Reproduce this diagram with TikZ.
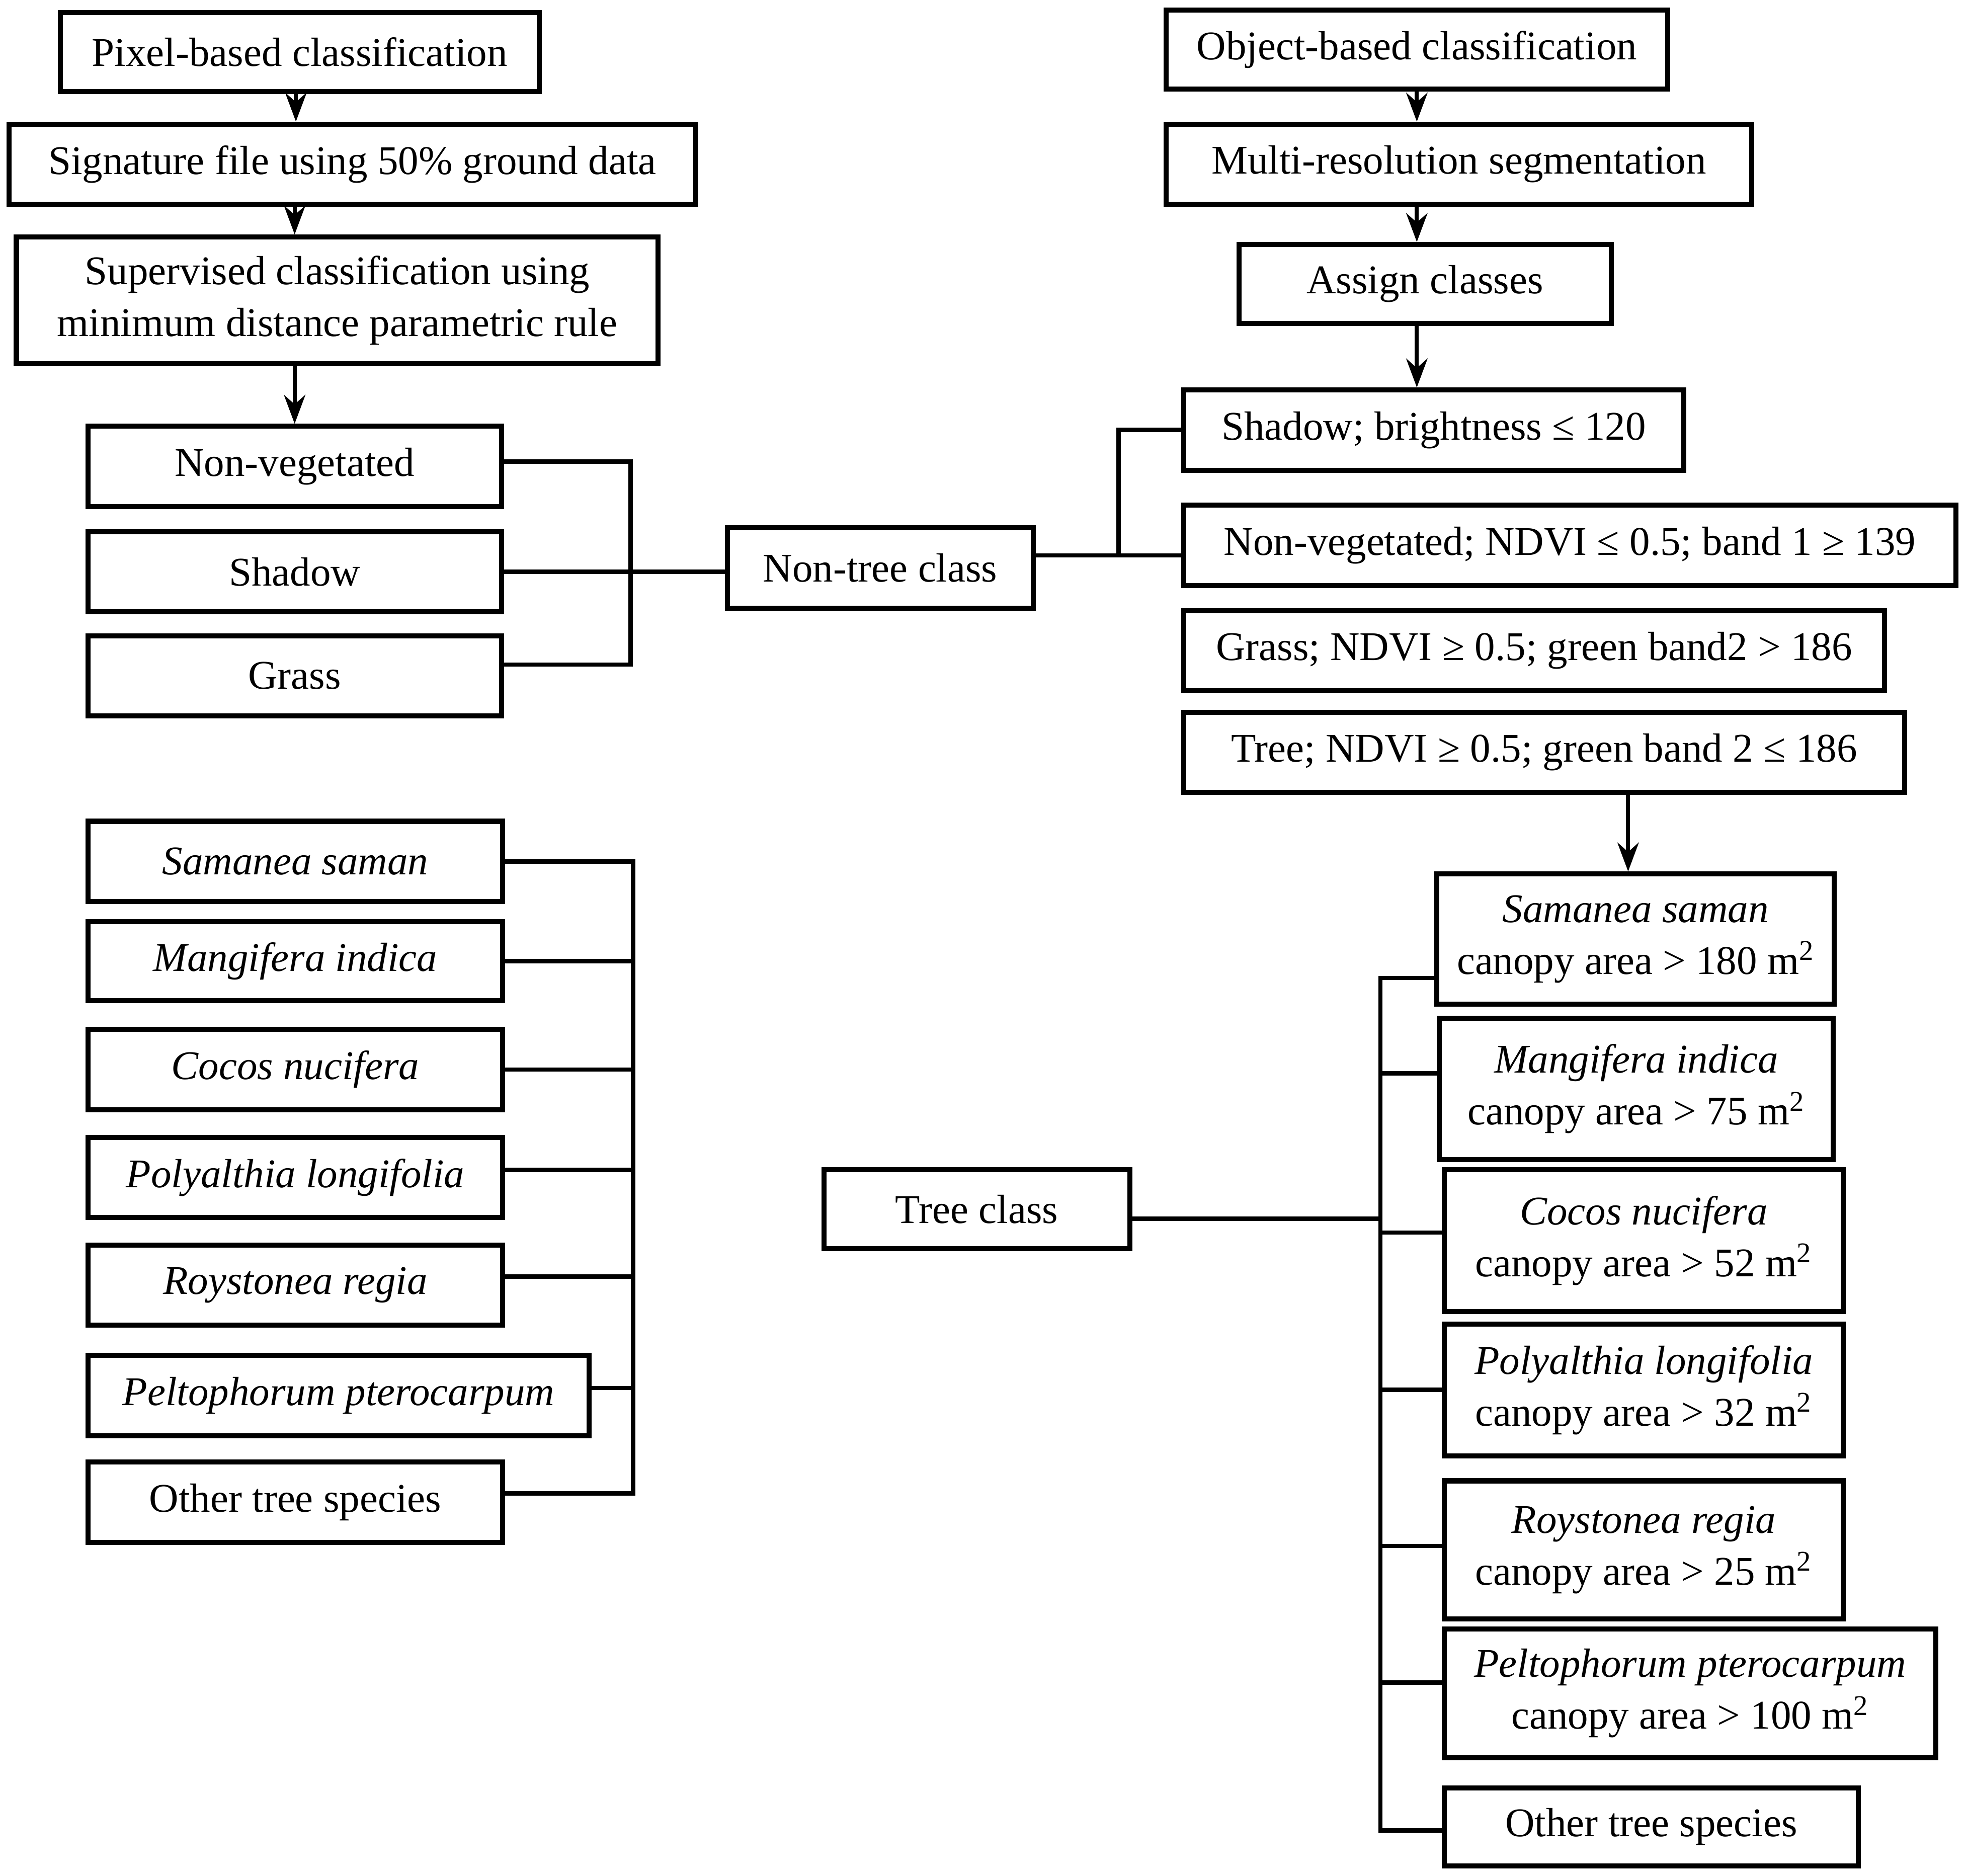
\documentclass[tikz,border=0pt]{standalone}
\usepackage{fontspec}
\setmainfont{Liberation Serif}
\usetikzlibrary{arrows.meta}
\newcommand{\myfs}{\fontsize{18.5}{23.5}\selectfont}
\begin{document}
\begin{tikzpicture}[x=0.02cm,y=-0.02cm,
  box/.style={draw, line width=2.3pt, rectangle, inner sep=2pt, align=center, font=\myfs, fill=white},
  ln/.style={line width=2pt, line join=miter},
  arr/.style={line width=1.8pt, -{Stealth[length=0.46cm,width=0.34cm]}}]
\useasboundingbox[fill=white] (0,0) rectangle (1568,1496);

% ---------- left: pixel-based ----------
\node[box, minimum width=7.64cm, minimum height=1.26cm] (pix) at (239,41.5) {Pixel-based classification};
\node[box, minimum width=10.96cm, minimum height=1.28cm] (sig) at (281,131) {Signature file using 50\% ground data};
\node[box, minimum width=10.24cm, minimum height=2.02cm] (sup) at (269,239.5) {Supervised classification using\\minimum distance parametric rule};
\node[box, minimum width=6.6cm, minimum height=1.28cm] (nv) at (235,372) {Non-vegetated};
\node[box, minimum width=6.6cm, minimum height=1.28cm] (sh) at (235,456) {Shadow};
\node[box, minimum width=6.6cm, minimum height=1.28cm] (gr) at (235,539) {Grass};
\node[box, minimum width=4.88cm, minimum height=1.28cm] (nt) at (702,453) {Non-tree class};

\node[box, minimum width=6.62cm, minimum height=1.28cm] (ls1) at (235.5,687) {\itshape Samanea saman};
\node[box, minimum width=6.62cm, minimum height=1.26cm] (ls2) at (235.5,766.5) {\itshape Mangifera indica};
\node[box, minimum width=6.62cm, minimum height=1.28cm] (ls3) at (235.5,853) {\itshape Cocos nucifera};
\node[box, minimum width=6.62cm, minimum height=1.28cm] (ls4) at (235.5,939) {\itshape Polyalthia longifolia};
\node[box, minimum width=6.62cm, minimum height=1.28cm] (ls5) at (235.5,1025) {\itshape Roystonea regia};
\node[box, minimum width=8.0cm, minimum height=1.28cm] (ls6) at (270,1113) {\itshape Peltophorum pterocarpum};
\node[box, minimum width=6.62cm, minimum height=1.28cm] (ls7) at (235.5,1198) {Other tree species};

% ---------- right: object-based ----------
\node[box, minimum width=8.0cm, minimum height=1.26cm] (obj) at (1130,39.5) {Object-based classification};
\node[box, minimum width=9.34cm, minimum height=1.28cm] (mrs) at (1163.5,131) {Multi-resolution segmentation};
\node[box, minimum width=5.94cm, minimum height=1.26cm] (asg) at (1136.5,226.5) {Assign classes};
\node[box, minimum width=7.98cm, minimum height=1.28cm] (rsh) at (1143.5,343) {Shadow; brightness ≤ 120};
\node[box, minimum width=12.32cm, minimum height=1.28cm] (rnv) at (1252,435) {Non-vegetated; NDVI ≤ 0.5; band 1 ≥ 139};
\node[box, minimum width=11.18cm, minimum height=1.28cm] (rgr) at (1223.5,519) {Grass; NDVI ≥ 0.5; green band2 > 186};
\node[box, minimum width=11.5cm, minimum height=1.28cm] (rtr) at (1231.5,600) {Tree; NDVI ≥ 0.5; green band 2 ≤ 186};

\node[box, minimum width=4.88cm, minimum height=1.26cm] (tc) at (779,964.5) {Tree class};

\node[box, minimum width=6.34cm, minimum height=2.08cm] (rs1) at (1304.5,749) {\itshape Samanea saman\\canopy area > 180 m\textsuperscript{2}};
\node[box, minimum width=6.28cm, minimum height=2.26cm] (rs2) at (1305,868.5) {\itshape Mangifera indica\\canopy area > 75 m\textsuperscript{2}};
\node[box, minimum width=6.36cm, minimum height=2.26cm] (rs3) at (1311,989.5) {\itshape Cocos nucifera\\canopy area > 52 m\textsuperscript{2}};
\node[box, minimum width=6.36cm, minimum height=2.1cm] (rs4) at (1311,1108.5) {\itshape Polyalthia longifolia\\canopy area > 32 m\textsuperscript{2}};
\node[box, minimum width=6.36cm, minimum height=2.2cm] (rs5) at (1311,1236) {\itshape Roystonea regia\\canopy area > 25 m\textsuperscript{2}};
\node[box, minimum width=7.84cm, minimum height=2.06cm] (rs6) at (1348,1350.5) {\itshape Peltophorum pterocarpum\\canopy area > 100 m\textsuperscript{2}};
\node[box, minimum width=6.6cm, minimum height=1.24cm] (rs7) at (1317,1457) {Other tree species};

% ---------- junction coordinates ----------
\coordinate (bl) at (503,455);
\coordinate (j) at (892,443);
\coordinate (lt) at (505,690);
\coordinate (lb) at (505,1191);
\coordinate (t1) at (1101,780);
\coordinate (t7) at (1101,1460);

% ---------- arrows ----------
\draw[arr] ([xshift=-0.06cm]pix.south) -- ([xshift=-0.06cm]pix.south |- sig.north);
\draw[arr] (sig.south -| nv.north) -- (sup.north -| nv.north);
\draw[arr] (sup.south -| nv.north) -- (nv.north);
\draw[arr] (obj.south) -- (obj.south |- mrs.north);
\draw[arr] (mrs.south -| obj.south) -- (asg.north -| obj.south);
\draw[arr] (asg.south -| obj.south) -- (rsh.north -| obj.south);
\draw[arr] ([xshift=-0.12cm]rtr.south -| rs1.north) -- ([xshift=-0.12cm]rs1.north);

% ---------- brackets ----------
\draw[ln] ([yshift=0.08cm]nv.east) -| (bl) |- ([yshift=0.18cm]gr.east);
\draw[ln] (sh.east) -- (sh.east -| nt.west);
\draw[ln] (nt.east |- j) -- (j -| rnv.west);
\draw[ln] (rsh.west) -| (j);

\draw[ln] (ls1.east) -| (lb) -- (lb -| ls7.east);
\draw[ln] (ls2.east) -- (ls2.east -| lt);
\draw[ln] (ls3.east) -- (ls3.east -| lt);
\draw[ln] ([yshift=0.12cm]ls4.east) -- ([yshift=0.12cm]ls4.east -| lt);
\draw[ln] ([yshift=0.14cm]ls5.east) -- ([yshift=0.14cm]ls5.east -| lt);
\draw[ln] ([yshift=0.12cm]ls6.east) -- ([yshift=0.12cm]ls6.east -| lt);

\draw[ln] (t1 -| rs1.west) -- (t1) -- (t7) -- (t7 -| rs7.west);
\draw[ln] ([yshift=0.25cm]rs2.west -| t1) -- ([yshift=0.25cm]rs2.west);
\draw[ln] ([yshift=0.13cm]rs3.west -| t1) -- ([yshift=0.13cm]rs3.west);
\draw[ln] (rs4.west -| t1) -- (rs4.west);
\draw[ln] ([yshift=0.06cm]rs5.west -| t1) -- ([yshift=0.06cm]rs5.west);
\draw[ln] ([yshift=0.17cm]rs6.west -| t1) -- ([yshift=0.17cm]rs6.west);
\draw[ln] ([yshift=-0.15cm]tc.east) -- ([yshift=-0.15cm]tc.east -| t1);
\end{tikzpicture}
\end{document}
